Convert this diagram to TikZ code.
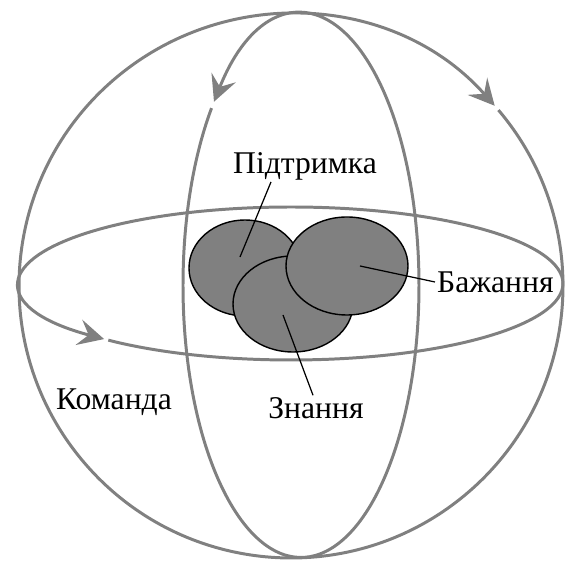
\documentclass[tikz,border=0pt]{standalone}
\usepackage{fontspec}
\setmainfont{Liberation Serif}
\usepackage{tikz}
\usetikzlibrary{arrows.meta}
\definecolor{ringgray}{HTML}{808080}
\definecolor{blobgray}{HTML}{808080}
\tikzset{
  ring/.style={draw=ringgray,line width=1.7pt},
  ringarr/.style={ring,-{Stealth[length=5.2mm,width=5.2mm,inset=2mm]}},
  blob/.style={draw=black,fill=blobgray,line width=0.8pt},
  lead/.style={draw=black,line width=0.7pt},
  lbl/.style={inner sep=1pt}
}
\begin{document}
\begin{tikzpicture}[x=0.02cm,y=0.02cm,font=\fontsize{18}{21}\selectfont]
  \useasboundingbox (0,0) rectangle (566,561);
  \coordinate (ctr) at (291,275);
  \coordinate (mer) at (301,275.5);
  \coordinate (equ) at (291,277.5);
  \draw[ringarr] (ctr) ++(40.3:272) arc[start angle=40.3,end angle=-318.5,radius=272];
  \draw[ringarr] (mer) ++({118*cos(139.3)},{272*sin(139.3)}) arc[start angle=139.3,end angle=497.5,x radius=118,y radius=272];
  \draw[ringarr] (equ) ++({272*cos(227.8)},{76.5*sin(227.8)}) arc[start angle=227.8,end angle=586.6,x radius=272,y radius=76.5];
  \draw[blob] (245,293) ellipse[x radius=56,y radius=48];
  \draw[blob] (293,257) ellipse[x radius=60,y radius=48];
  \draw[blob] (347,295) ellipse[x radius=61,y radius=49];
  \coordinate (supin) at (240,304);
  \coordinate (desin) at (360,295);
  \coordinate (knoin) at (283,246);
  \node[lbl] (supl) at (305,395) {Підтримка};
  \node[lbl,anchor=west] (desl) at (435,279) {Бажання};
  \node[lbl] (knol) at (316,153) {Знання};
  \node[lbl] (coml) at (114,159) {Команда};
  \draw[lead] ([xshift=-0.68cm]supl.south) -- (supin);
  \draw[lead] (desl.west) -- (desin);
  \draw[lead] ([xshift=-0.06cm]knol.north) -- (knoin);
\end{tikzpicture}
\end{document}
